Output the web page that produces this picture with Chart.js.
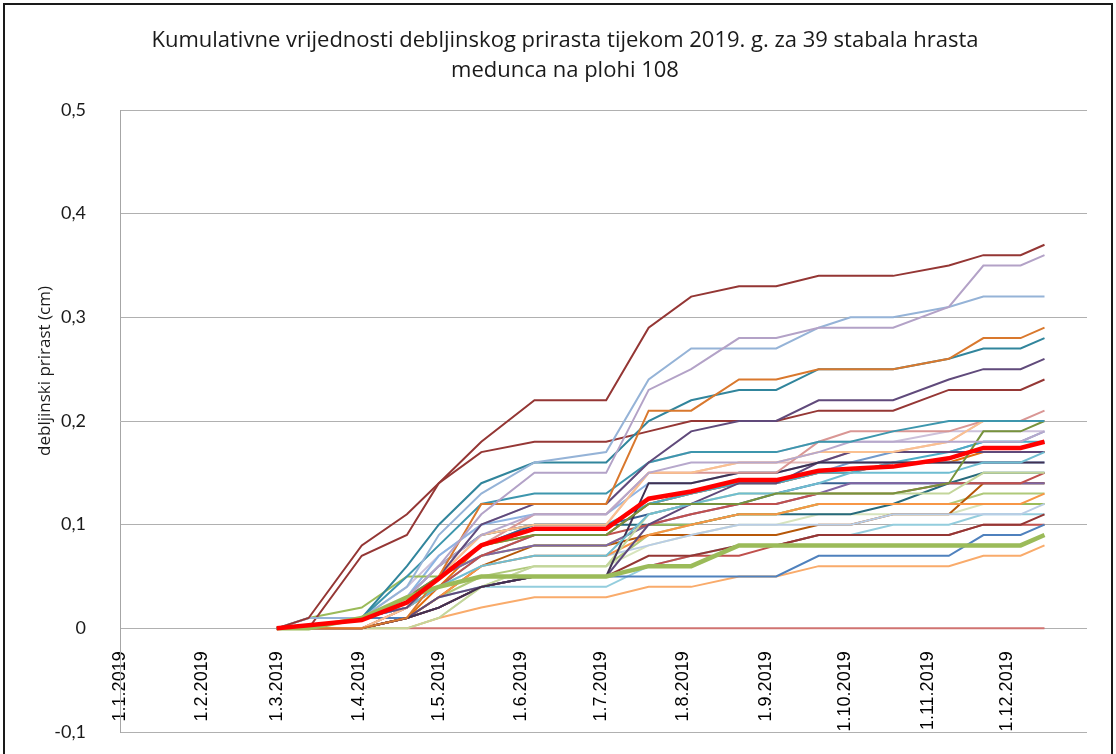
<!DOCTYPE html>
<html>
<head>
<meta charset="utf-8">
<title>Debljinski prirast 2019</title>
<script src="https://cdn.jsdelivr.net/npm/chart.js@4"></script>
<style>
  html, body { margin: 0; padding: 0; background: #fff; overflow: hidden; }
  #wrap { position: relative; width: 1116px; height: 754px; }
  #frame {
    position: absolute; left: 3px; top: 3px; width: 1106px; height: 800px;
    border: 2px solid #1a1a1a; pointer-events: none;
  }
</style>
</head>
<body>
<div id="wrap">
  <canvas id="chart" width="1116" height="754"></canvas>
  <div id="frame"></div>
</div>
<script>
// datumi mjerenja (d.m.yyyy)
const measureDates = ['1.3.2019', '13.3.2019', '2.4.2019', '19.4.2019', '1.5.2019', '17.5.2019', '6.6.2019',
  '3.7.2019', '19.7.2019', '4.8.2019', '22.8.2019', '5.9.2019', '21.9.2019', '3.10.2019', '19.10.2019',
  '9.11.2019', '22.11.2019', '6.12.2019', '15.12.2019'];

// oznake na osi x
const monthTicks = ['1.1.2019', '1.2.2019', '1.3.2019', '1.4.2019', '1.5.2019', '1.6.2019', '1.7.2019',
  '1.8.2019', '1.9.2019', '1.10.2019', '1.11.2019', '1.12.2019'];
const axisStart = '1.1.2019';
const axisEnd = '31.12.2019';

const titleLines = ['Kumulativne vrijednosti debljinskog prirasta tijekom 2019. g. za 39 stabala hrasta',
  'medunca na plohi 108'];
const yTitle = 'debljinski prirast (cm)';

// prosjek (debela crvena linija)
const prosjek = [0, 0.003, 0.008, 0.025, 0.048, 0.08, 0.096, 0.096, 0.125, 0.132, 0.143, 0.143, 0.152, 0.154, 0.156, 0.164, 0.174, 0.174, 0.18];
// istaknuto stablo (debela zelena linija)
const istaknuto = [0, 0, 0.01, 0.03, 0.04, 0.05, 0.05, 0.05, 0.06, 0.06, 0.08, 0.08, 0.08, 0.08, 0.08, 0.08, 0.08, 0.08, 0.09];

// pojedinačna stabla (cm)
const s01 = [0, 0.01, 0.08, 0.11, 0.14, 0.18, 0.22, 0.22, 0.29, 0.32, 0.33, 0.33, 0.34, 0.34, 0.34, 0.35, 0.36, 0.36, 0.37];
const s02 = [0, 0, 0.01, 0.03, 0.06, 0.11, 0.15, 0.15, 0.23, 0.25, 0.28, 0.28, 0.29, 0.29, 0.29, 0.31, 0.35, 0.35, 0.36];
const s03 = [0, 0.01, 0.01, 0.04, 0.09, 0.13, 0.16, 0.17, 0.24, 0.27, 0.27, 0.27, 0.29, 0.30, 0.30, 0.31, 0.32, 0.32, 0.32];
const s04 = [0, 0, 0, 0.01, 0.05, 0.12, 0.12, 0.12, 0.21, 0.21, 0.24, 0.24, 0.25, 0.25, 0.25, 0.26, 0.28, 0.28, 0.29];
const s05 = [0, 0, 0.01, 0.06, 0.10, 0.14, 0.16, 0.16, 0.20, 0.22, 0.23, 0.23, 0.25, 0.25, 0.25, 0.26, 0.27, 0.27, 0.28];
const s06 = [0, 0, 0.01, 0.02, 0.05, 0.10, 0.12, 0.12, 0.16, 0.19, 0.20, 0.20, 0.22, 0.22, 0.22, 0.24, 0.25, 0.25, 0.26];
const s07 = [0, 0, 0.07, 0.09, 0.14, 0.17, 0.18, 0.18, 0.19, 0.20, 0.20, 0.20, 0.21, 0.21, 0.21, 0.23, 0.23, 0.23, 0.24];
const s08 = [0, 0, 0.01, 0.05, 0.08, 0.12, 0.13, 0.13, 0.16, 0.17, 0.17, 0.17, 0.18, 0.18, 0.19, 0.20, 0.20, 0.20, 0.20];
const s09 = [0, 0, 0.01, 0.03, 0.06, 0.09, 0.11, 0.11, 0.15, 0.16, 0.16, 0.16, 0.17, 0.18, 0.18, 0.18, 0.18, 0.18, 0.19];
const s10 = [0, 0, 0, 0.02, 0.05, 0.09, 0.10, 0.10, 0.15, 0.15, 0.16, 0.16, 0.17, 0.17, 0.17, 0.18, 0.20, 0.20, 0.20];
const s11 = [0, 0, 0, 0.02, 0.05, 0.08, 0.11, 0.11, 0.15, 0.15, 0.15, 0.15, 0.18, 0.19, 0.19, 0.19, 0.20, 0.20, 0.21];
const s12 = [0, 0, 0.01, 0.03, 0.05, 0.08, 0.09, 0.09, 0.12, 0.12, 0.12, 0.13, 0.13, 0.13, 0.13, 0.14, 0.19, 0.19, 0.20];
const s13 = [0, 0, 0.01, 0.02, 0.04, 0.06, 0.07, 0.07, 0.11, 0.12, 0.13, 0.13, 0.14, 0.15, 0.15, 0.15, 0.16, 0.16, 0.17];
const s14 = [0, 0, 0, 0.01, 0.02, 0.04, 0.05, 0.05, 0.14, 0.14, 0.15, 0.15, 0.16, 0.16, 0.16, 0.16, 0.16, 0.16, 0.16];
const s15 = [0, 0, 0, 0.01, 0.03, 0.04, 0.05, 0.05, 0.10, 0.12, 0.14, 0.14, 0.16, 0.17, 0.17, 0.17, 0.17, 0.17, 0.17];
const s16 = [0, 0, 0, 0, 0.01, 0.04, 0.06, 0.06, 0.11, 0.12, 0.13, 0.13, 0.13, 0.13, 0.13, 0.13, 0.15, 0.15, 0.15];
const s17 = [0, 0, 0, 0.02, 0.04, 0.07, 0.09, 0.09, 0.10, 0.11, 0.12, 0.12, 0.13, 0.13, 0.13, 0.14, 0.14, 0.14, 0.15];
const s18 = [0, 0, 0.01, 0.03, 0.05, 0.07, 0.08, 0.08, 0.10, 0.11, 0.12, 0.12, 0.13, 0.14, 0.14, 0.14, 0.14, 0.14, 0.14];
const s19 = [0, 0, 0, 0.01, 0.03, 0.06, 0.07, 0.07, 0.09, 0.10, 0.11, 0.11, 0.12, 0.12, 0.12, 0.12, 0.12, 0.12, 0.13];
const s20 = [0, 0.01, 0.01, 0.02, 0.04, 0.06, 0.07, 0.07, 0.08, 0.09, 0.10, 0.10, 0.10, 0.10, 0.11, 0.11, 0.11, 0.11, 0.12];
const s21 = [0, 0.01, 0.02, 0.05, 0.05, 0.07, 0.08, 0.08, 0.10, 0.10, 0.11, 0.11, 0.12, 0.12, 0.12, 0.12, 0.12, 0.12, 0.12];
const s22 = [0, 0, 0, 0.01, 0.02, 0.04, 0.05, 0.05, 0.07, 0.07, 0.08, 0.08, 0.09, 0.09, 0.09, 0.09, 0.10, 0.10, 0.11];
const s23 = [0, 0, 0.01, 0.01, 0.02, 0.04, 0.05, 0.05, 0.05, 0.05, 0.05, 0.05, 0.07, 0.07, 0.07, 0.07, 0.09, 0.09, 0.10];
const s24 = [0, 0, 0, 0.01, 0.02, 0.04, 0.05, 0.05, 0.06, 0.07, 0.07, 0.08, 0.09, 0.09, 0.09, 0.09, 0.10, 0.10, 0.10];
const s25 = [0, 0, 0, 0, 0.01, 0.02, 0.03, 0.03, 0.04, 0.04, 0.05, 0.05, 0.06, 0.06, 0.06, 0.06, 0.07, 0.07, 0.08];
const s26 = [null, null, null, 0, 0, 0, 0, 0, 0, 0, 0, 0, 0, 0, 0, 0, 0, 0, 0];
const s27 = [0, 0, 0, 0.01, 0.03, 0.06, 0.08, 0.08, 0.09, 0.09, 0.09, 0.09, 0.10, 0.10, 0.11, 0.11, 0.14, 0.14, 0.14];
const s28 = [0, 0, 0.01, 0.03, 0.06, 0.09, 0.10, 0.10, 0.10, 0.10, 0.11, 0.11, 0.11, 0.11, 0.12, 0.14, 0.15, 0.15, 0.15];
const s29 = [0, 0.01, 0.01, 0.03, 0.07, 0.10, 0.11, 0.11, 0.14, 0.14, 0.15, 0.15, 0.16, 0.16, 0.16, 0.16, 0.16, 0.16, 0.16];
const s30 = [0, 0, 0.01, 0.04, 0.07, 0.10, 0.12, 0.12, 0.16, 0.17, 0.17, 0.17, 0.18, 0.18, 0.18, 0.19, 0.19, 0.19, 0.19];
const s31 = [0, 0, 0, 0.02, 0.05, 0.09, 0.10, 0.10, 0.15, 0.15, 0.16, 0.16, 0.16, 0.17, 0.17, 0.18, 0.20, 0.20, 0.20];
const s32 = [0, 0, 0, 0, 0.01, 0.04, 0.06, 0.06, 0.08, 0.09, 0.10, 0.10, 0.11, 0.11, 0.11, 0.11, 0.12, 0.12, 0.12];
const s33 = [0, 0, 0.01, 0.02, 0.05, 0.08, 0.10, 0.10, 0.11, 0.12, 0.12, 0.13, 0.14, 0.14, 0.14, 0.14, 0.14, 0.14, 0.14];
const s34 = [0, 0, 0.01, 0.02, 0.05, 0.08, 0.10, 0.10, 0.12, 0.13, 0.14, 0.14, 0.15, 0.15, 0.16, 0.17, 0.18, 0.18, 0.18];
const s35 = [0, 0, 0, 0.01, 0.04, 0.08, 0.09, 0.09, 0.12, 0.13, 0.14, 0.14, 0.15, 0.15, 0.16, 0.16, 0.17, 0.17, 0.17];
const s36 = [0, 0, 0, 0.01, 0.03, 0.04, 0.04, 0.04, 0.06, 0.07, 0.08, 0.08, 0.09, 0.09, 0.10, 0.10, 0.11, 0.11, 0.11];
const s37 = [0, 0, 0.01, 0.02, 0.04, 0.07, 0.09, 0.09, 0.12, 0.13, 0.14, 0.14, 0.15, 0.16, 0.17, 0.17, 0.18, 0.18, 0.19];
const s38 = [0, 0, 0, 0.01, 0.03, 0.05, 0.06, 0.06, 0.09, 0.10, 0.11, 0.11, 0.12, 0.12, 0.12, 0.12, 0.13, 0.13, 0.13];

const trees = [s01, s02, s03, s04, s05, s06, s07, s08, s09, s10, s11, s12, s13, s14, s15, s16, s17, s18, s19,
  s20, s21, s22, s23, s24, s25, s26, s27, s28, s29, s30, s31, s32, s33, s34, s35, s36, s37, s38];
const treeColors = ['#943634', '#B3A2C7', '#95B3D7', '#D9782D', '#31859C', '#604A7B', '#953735', '#3D96AD',
  '#B7A8CC', '#FAC090', '#D99694', '#77933C', '#6FBDD1', '#403152', '#5F497A', '#C3D69B', '#C0504D',
  '#8064A2', '#F79646', '#B9CDE5', '#9BBB59', '#943634', '#4F81BD', '#C0504D', '#F9AB6B', '#D07371',
  '#B65708', '#276A7C', '#8EB4E3', '#CCC1DA', '#E6B9B8', '#D7E4BD', '#376092', '#4BACC6', '#E46C0A',
  '#93CDDD', '#729ACA', '#AFC97A'];

// dan u godini iz "d.m.yyyy"
function dayOfYear(str) {
  const [d, m, y] = str.split('.').map(Number);
  return (Date.UTC(y, m - 1, d) - Date.UTC(2019, 0, 1)) / 86400000;
}

function toPoints(values) {
  return values.map((v, i) => ({ x: dayOfYear(measureDates[i]), y: v }));
}

const datasets = [];
// prosjek iznad svega
datasets.push({ data: toPoints(prosjek), borderColor: '#FF0000', borderWidth: 4.5 });
datasets.push({ data: toPoints(istaknuto), borderColor: '#9BBB59', borderWidth: 4.5 });
trees.forEach((t, i) => {
  datasets.push({ data: toPoints(t), borderColor: treeColors[i], borderWidth: 2 });
});

// naslov grafa i naslov osi y (Excel ih ne centrira na plohu)
const titlesPlugin = {
  id: 'naslovi',
  afterDraw(chart) {
    const ctx = chart.ctx;
    ctx.save();
    ctx.fillStyle = '#1a1a1a';
    ctx.textAlign = 'center';
    ctx.textBaseline = 'middle';
    ctx.font = '22px "Open Sans"';
    ctx.fillText(titleLines[0], 565, 41);
    ctx.fillText(titleLines[1], 565, 71);
    ctx.font = '17px "Open Sans"';
    ctx.translate(45, 371);
    ctx.rotate(-Math.PI / 2);
    ctx.fillText(yTitle, 0, 0);
    ctx.restore();
  },
};

Chart.defaults.font.family = 'Lato';
Chart.defaults.color = '#000';

new Chart(document.getElementById('chart'), {
  type: 'line',
  data: { datasets: datasets },
  options: {
    responsive: false,
    animation: false,
    events: [],
    devicePixelRatio: 1,
    layout: { padding: { left: 0, right: 29, top: 110, bottom: 22 } },
    elements: {
      point: { radius: 0 },
      line: { tension: 0, fill: false },
    },
    plugins: {
      legend: { display: false },
      tooltip: { enabled: false },
      title: { display: false },
    },
    scales: {
      x: {
        type: 'linear',
        position: { y: 0 },
        min: dayOfYear(axisStart),
        max: dayOfYear(axisEnd),
        grid: { display: false },
        border: { display: false },
        afterBuildTicks: (scale) => {
          scale.ticks = monthTicks.map((l) => ({ value: dayOfYear(l) }));
        },
        ticks: {
          autoSkip: false,
          minRotation: 90,
          maxRotation: 90,
          padding: 15,
          font: { family: 'Liberation Sans', size: 18 },
          color: '#000',
          callback: (value, index) => monthTicks[index],
        },
      },
      y: {
        min: -0.1,
        max: 0.5,
        afterFit: (scale) => {
          // fiksna širina lijevo od plohe, bez dodatnog razmaka gore/dolje
          scale.width = 120;
          scale.paddingTop = 0;
          scale.paddingBottom = 0;
        },
        grid: { color: '#B0B0B0', lineWidth: 1, drawTicks: false },
        border: { display: true, color: '#A6A6A6' },
        ticks: {
          stepSize: 0.1,
          padding: 34,
          font: { family: 'Lato', size: 18 },
          color: '#1a1a1a',
          callback: (v) => (Math.abs(v) < 1e-9 ? '0' : v.toFixed(1).replace('.', ',')),
        },
      },
    },
  },
  plugins: [titlesPlugin],
});
</script>
</body>
</html>
